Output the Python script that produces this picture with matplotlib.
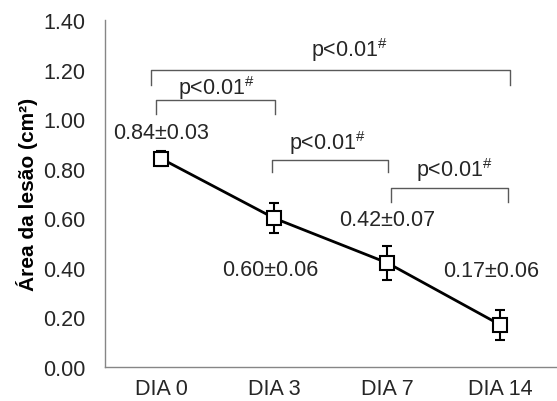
import matplotlib
matplotlib.use("Agg")
import matplotlib.pyplot as plt

# data
days = ["DIA 0", "DIA 3", "DIA 7", "DIA 14"]
area = [0.84, 0.60, 0.42, 0.17]
sd = [0.03, 0.06, 0.07, 0.06]
value_labels = ["0.84±0.03", "0.60±0.06", "0.42±0.07", "0.17±0.06"]

# significance brackets: (start index, end index, text)
comparisons = [(0, 3, "p<0.01"), (0, 1, "p<0.01"), (1, 2, "p<0.01"), (2, 3, "p<0.01")]

plt.rcParams['font.family'] = ['Liberation Sans', 'DejaVu Sans']
plt.rcParams['mathtext.fontset'] = 'custom'
plt.rcParams['mathtext.rm'] = 'Liberation Sans'
plt.rcParams['mathtext.it'] = 'Liberation Sans:italic'

fig = plt.figure(figsize=(5.57, 4.02), dpi=100)
ax = fig.add_axes([0.1885, 0.0846, 0.811, 0.8632])

x = list(range(len(days)))
ax.errorbar(x, area, yerr=sd, color='black', lw=2.0, marker='s', ms=10,
            mfc='white', mec='black', mew=1.5, capsize=3.5, capthick=1.5,
            elinewidth=1.5, zorder=3)

ax.set_xlim(-0.5, 3.5)
ax.set_ylim(0, 1.4)
ax.set_yticks([0, 0.2, 0.4, 0.6, 0.8, 1.0, 1.2, 1.4])
ax.set_yticklabels([f"{v:.2f}" for v in ax.get_yticks()])
ax.set_xticks(x)
ax.set_xticklabels(days)
ax.tick_params(axis='y', length=0, pad=14, labelsize=15.5, colors='#262626')
ax.tick_params(axis='x', length=0, pad=8, labelsize=15.5, colors='#262626')

for s in ['top', 'right']:
    ax.spines[s].set_visible(False)
for s in ['left', 'bottom']:
    ax.spines[s].set_color('#868686')
    ax.spines[s].set_linewidth(1.0)

ax.set_ylabel("Área da lesão (cm²)", fontsize=15, fontweight='bold')
ax.yaxis.set_label_coords(-0.148, 0.5)

# value labels (x position, y position)
label_pos = [(0.0, 0.948), (0.96, 0.395), (2.0, 0.597), (2.92, 0.391)]
for txt, (lx, ly) in zip(value_labels, label_pos):
    ax.text(lx, ly, txt, ha='center', va='center', fontsize=15.5, color='#262626')

# brackets: (x0, x1, y top, y bottom, text x, text y)
bracket_geom = [(-0.093, 3.09, 1.198, 1.138, 1.668, 1.283),
                (-0.049, 1.004, 1.077, 1.021, 0.491, 1.130),
                (0.978, 2.004, 0.835, 0.787, 1.473, 0.908),
                (2.031, 3.066, 0.722, 0.666, 2.597, 0.799)]
for (i0, i1, txt), (x0, x1, yt, yb, tx, ty) in zip(comparisons, bracket_geom):
    ax.plot([x0, x0, x1, x1], [yb, yt, yt, yb], color='#595959', lw=1.0,
            clip_on=False)
    ax.text(tx, ty, txt + r"$^{\#}$", ha='center', va='center',
            fontsize=15.5, color='#262626')

fig.savefig("out.png", dpi=100)
